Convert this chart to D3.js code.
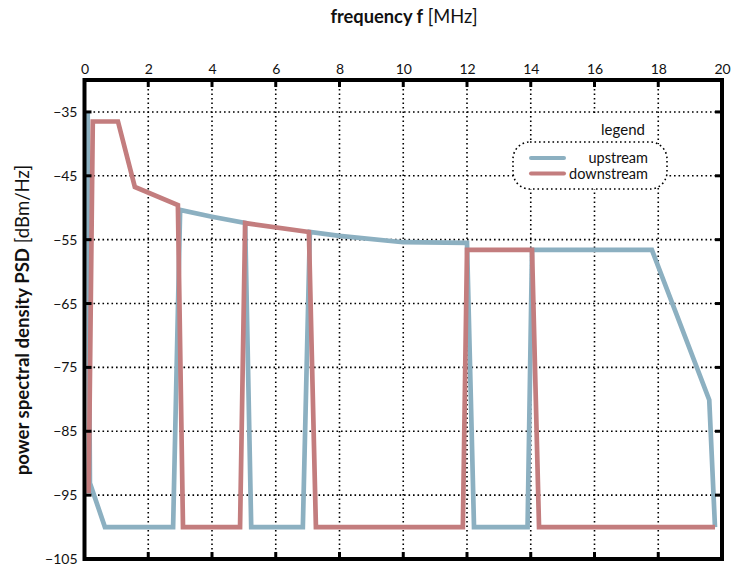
<!DOCTYPE html>
<html>
<head>
<meta charset="utf-8">
<script src="https://cdn.jsdelivr.net/npm/d3@7"></script>
<style>
  html, body { margin: 0; padding: 0; background: #fff; }
  svg { display: block; font-family: Lato, "Open Sans", sans-serif; }
</style>
</head>
<body>
<svg id="chart" width="736" height="574"></svg>
<script>
// ---- data ----
const xTickValues = [0, 2, 4, 6, 8, 10, 12, 14, 16, 18, 20];
const yTickValues = [-35, -45, -55, -65, -75, -85, -95, -105];

const upstreamFreq = [0.1, 0.17, 0.64, 2.78, 3.0, 4.0, 5.04, 5.23, 6.85, 7.07, 8.0, 10.0, 12.0, 12.22, 13.9, 14.04, 17.8, 19.6, 19.78];
const upstreamPSD  = [-35, -93.1, -100, -100, -50.35, -51.4, -52.4, -100, -100, -53.8, -54.4, -55.4, -55.5, -100, -100, -56.6, -56.6, -80.1, -100];

const downstreamFreq = [0.13, 0.26, 1.05, 1.58, 2.93, 3.09, 4.88, 5.04, 7.04, 7.26, 11.87, 12.0, 14.04, 14.26, 19.78];
const downstreamPSD  = [-94.7, -36.5, -36.5, -46.75, -49.6, -100, -100, -52.4, -53.8, -100, -100, -56.6, -56.6, -100, -100];

const seriesNames = ["upstream", "downstream"];
const seriesColors = ["#8cb0c1", "#c37d7e"];

// ---- layout ----
const svg = d3.select("#chart");
const pL = 84.5, pR = 722, pT = 80, pB = 559;
const x = d3.scaleLinear().domain([0, 20]).range([pL, pR]);
const y = d3.scaleLinear().domain([-30, -105]).range([pT, pB]);

// grid
const grid = svg.append("g").attr("stroke", "#000").attr("stroke-width", 1.6)
  .attr("stroke-dasharray", "1.6,2.9").attr("fill", "none");
xTickValues.filter(v => v > 0 && v < 20).forEach(v => {
  grid.append("line").attr("x1", x(v)).attr("x2", x(v)).attr("y1", pT).attr("y2", pB);
});
yTickValues.filter(v => v > -105).forEach(v => {
  grid.append("line").attr("x1", pL).attr("x2", pR).attr("y1", y(v)).attr("y2", y(v));
});

// lines
const line = d3.line().x(d => x(d[0])).y(d => y(d[1])).curve(d3.curveLinear);
const upData = upstreamFreq.map((f, i) => [f, upstreamPSD[i]]);
const downData = downstreamFreq.map((f, i) => [f, downstreamPSD[i]]);
[upData, downData].forEach((data, i) => {
  svg.append("path").datum(data).attr("d", line)
    .attr("fill", "none").attr("stroke", seriesColors[i])
    .attr("stroke-width", 4.7).attr("stroke-linejoin", "miter").attr("stroke-miterlimit", 3);
});

// legend
const lg = svg.append("g");
lg.append("rect").attr("x", 534).attr("y", 116).attr("width", 121).attr("height", 28).attr("fill", "#fff");
lg.append("rect").attr("x", 513).attr("y", 142).attr("width", 154).attr("height", 47)
  .attr("rx", 17).attr("ry", 17).attr("fill", "#fff")
  .attr("stroke", "#000").attr("stroke-width", 1.6).attr("stroke-dasharray", "1.6,2.9");
lg.append("text").attr("x", 623).attr("y", 130).attr("dy", "0.35em")
  .attr("text-anchor", "middle").attr("font-size", 15).attr("fill", "#111").text("legend");
seriesNames.forEach((name, i) => {
  const yy = 158 + i * 15.5;
  lg.append("line").attr("x1", 531).attr("x2", 564).attr("y1", yy).attr("y2", yy)
    .attr("stroke", seriesColors[i]).attr("stroke-width", 4).attr("stroke-linecap", "round");
  lg.append("text").attr("x", 648).attr("y", yy).attr("dy", "0.35em")
    .attr("text-anchor", "end").attr("font-size", 14.5).attr("fill", "#111").text(name);
});

// frame
svg.append("rect").attr("x", pL).attr("y", pT).attr("width", pR - pL).attr("height", pB - pT)
  .attr("fill", "none").attr("stroke", "#000").attr("stroke-width", 4);

// ticks on all sides (inside)
const tk = svg.append("g").attr("stroke", "#000").attr("stroke-width", 3);
xTickValues.filter(v => v > 0 && v < 20).forEach(v => {
  tk.append("line").attr("x1", x(v)).attr("x2", x(v)).attr("y1", pT).attr("y2", pT + 7);
  tk.append("line").attr("x1", x(v)).attr("x2", x(v)).attr("y1", pB).attr("y2", pB - 7);
});
yTickValues.filter(v => v > -105).forEach(v => {
  tk.append("line").attr("x1", pL).attr("x2", pL + 7).attr("y1", y(v)).attr("y2", y(v));
  tk.append("line").attr("x1", pR).attr("x2", pR - 7).attr("y1", y(v)).attr("y2", y(v));
});

// axes labels via d3 axes
const xAxis = d3.axisTop(x).tickValues(xTickValues).tickSize(0).tickPadding(0).tickFormat(d3.format("d"));
const gx = svg.append("g").attr("transform", `translate(0,${pT - 6})`).call(xAxis);
gx.select(".domain").remove();
gx.selectAll("text").attr("font-size", 14).attr("font-family", "Lato, sans-serif").attr("fill", "#111");

const yAxis = d3.axisLeft(y).tickValues(yTickValues).tickSize(0).tickPadding(0).tickFormat(d3.format("d"));
const gy = svg.append("g").attr("transform", `translate(${pL - 7},0)`).call(yAxis);
gy.select(".domain").remove();
gy.selectAll("text").attr("font-size", 14).attr("font-family", "Lato, sans-serif").attr("fill", "#111");

// titles
const xt = svg.append("text").attr("x", 404).attr("y", 23).attr("text-anchor", "middle")
  .attr("font-size", 18.3).attr("fill", "#111");
xt.append("tspan").attr("font-weight", "bold").text("frequency f");
xt.append("tspan").text(" [MHz]");

const yt = svg.append("text").attr("transform", "translate(29,320) rotate(-90)")
  .attr("text-anchor", "middle").attr("font-size", 18.6).attr("fill", "#111");
yt.append("tspan").attr("font-weight", "bold").text("power spectral density PSD");
yt.append("tspan").text(" [dBm/Hz]");
</script>
</body>
</html>
